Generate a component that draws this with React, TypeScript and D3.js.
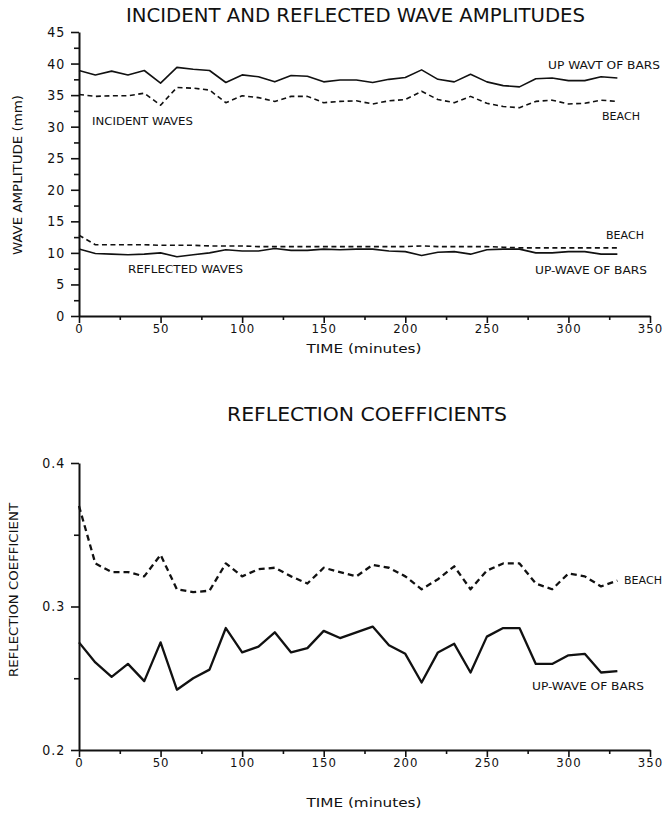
import React, { useRef, useEffect } from 'react';
import * as d3 from 'd3';

// sampling times (minutes)
const times = [0, 10, 20, 30, 40, 50, 60, 70, 80, 90, 100, 110, 120, 130, 140, 150, 160,
  170, 180, 190, 200, 210, 220, 230, 240, 250, 260, 270, 280, 290, 300, 310, 320, 330];

// wave amplitudes (mm)
const incidentBars = [38.9, 38.2, 38.8, 38.2, 38.9, 36.9, 39.4, 39.1, 38.9, 37.0, 38.2, 37.9,
  37.1, 38.1, 38.0, 37.1, 37.4, 37.4, 37.0, 37.5, 37.8, 39.0, 37.5, 37.1, 38.3, 37.1,
  36.5, 36.3, 37.6, 37.7, 37.3, 37.3, 37.9, 37.7];
const incidentBeach = [35.1, 34.8, 34.9, 34.9, 35.3, 33.4, 36.2, 36.1, 35.8, 33.8, 34.9, 34.6,
  34.0, 34.8, 34.8, 33.8, 34.0, 34.1, 33.6, 34.1, 34.3, 35.6, 34.3, 33.8, 34.8, 33.7,
  33.2, 33.0, 34.0, 34.2, 33.6, 33.7, 34.2, 34.0];
const reflectedBeach = [12.8, 11.3, 11.3, 11.3, 11.3, 11.2, 11.2, 11.2, 11.1, 11.1, 11.1, 11.0,
  11.0, 11.0, 11.0, 11.0, 11.0, 11.0, 11.0, 11.0, 11.0, 11.1, 11.0, 11.0, 11.0, 11.0,
  10.9, 10.8, 10.8, 10.8, 10.8, 10.8, 10.8, 10.8];
const reflectedBars = [10.6, 9.9, 9.8, 9.7, 9.8, 10.0, 9.4, 9.7, 10.0, 10.5, 10.3, 10.3,
  10.7, 10.4, 10.4, 10.6, 10.5, 10.6, 10.6, 10.3, 10.2, 9.6, 10.1, 10.2, 9.8, 10.5,
  10.6, 10.6, 10.0, 10.0, 10.2, 10.2, 9.8, 9.8];

// reflection coefficients
const coefBeach = [0.370, 0.330, 0.324, 0.324, 0.321, 0.336, 0.312, 0.310, 0.311, 0.330, 0.321,
  0.326, 0.327, 0.321, 0.316, 0.327, 0.324, 0.321, 0.329, 0.327, 0.321, 0.312, 0.319,
  0.328, 0.312, 0.325, 0.330, 0.330, 0.316, 0.312, 0.323, 0.321, 0.314, 0.318];
const coefBars = [0.275, 0.261, 0.251, 0.260, 0.248, 0.275, 0.242, 0.250, 0.256, 0.285, 0.268,
  0.272, 0.282, 0.268, 0.271, 0.283, 0.278, 0.282, 0.286, 0.273, 0.267, 0.247, 0.268,
  0.274, 0.254, 0.279, 0.285, 0.285, 0.260, 0.260, 0.266, 0.267, 0.254, 0.255];

const timeTicks = [0, 50, 100, 150, 200, 250, 300, 350];
const timeMinor = [25, 75, 125, 175, 225, 275, 325];
const ampTicks = [0, 5, 10, 15, 20, 25, 30, 35, 40, 45];
const ampMinor = [2.5, 7.5, 12.5, 17.5, 22.5, 27.5, 32.5, 37.5, 42.5];
const coefTicks = [0.2, 0.3, 0.4];
const coefMinor = [0.25, 0.35];

const W = 669;
const H = 815;
const FONT = '"Liberation Sans Narrow", "DejaVu Sans Condensed", "Liberation Sans", sans-serif';

const App: React.FC = () => {
  const svgRef = useRef<SVGSVGElement>(null);

  useEffect(() => {
    if (!svgRef.current) return;
    const svg = d3.select(svgRef.current);
    svg.selectAll('*').remove();

    const drawPanel = (x: d3.ScaleLinear<number, number>, y: d3.ScaleLinear<number, number>,
      yTicks: number[], yMinor: number[], yFormat: (d: number) => string) => {
      const g = svg.append('g');
      const y0 = y.range()[0];
      const x0 = x.range()[0];

      // x axis, ticks hanging below
      const xa = g.append('g').attr('transform', `translate(0,${y0})`);
      xa.call(d3.axisBottom(x).tickValues(timeTicks).tickSize(7).tickPadding(1).tickSizeOuter(0).tickFormat(d3.format('d')) as any);
      xa.append('g').call(d3.axisBottom(x).tickValues(timeMinor).tickSize(4).tickFormat(() => '') as any)
        .select('.domain').remove();
      xa.selectAll('path, line').attr('stroke', '#111').attr('stroke-width', 1.6);
      xa.selectAll('text').attr('font-family', FONT).attr('font-size', 13)
        .attr('letter-spacing', 1).attr('fill', '#111');

      // y axis
      const ya = g.append('g').attr('transform', `translate(${x0},0)`);
      ya.call(d3.axisLeft(y).tickValues(yTicks).tickSize(8).tickSizeOuter(0).tickFormat(yFormat as any) as any);
      ya.append('g').call(d3.axisLeft(y).tickValues(yMinor).tickSize(5).tickFormat(() => '') as any)
        .select('.domain').remove();
      ya.selectAll('path, line').attr('stroke', '#111').attr('stroke-width', 1.6);
      ya.selectAll('text').attr('font-family', FONT).attr('font-size', 14)
        .attr('letter-spacing', 1).attr('fill', '#111').attr('dx', '-0.2em');
      ya.selectAll('.domain').attr('stroke-width', 2);
      xa.selectAll('.domain').attr('stroke-width', 2);
      return g;
    };

    const addSeries = (g: any, x: any, y: any, vals: number[], dash: string | null, w: number) => {
      const line = d3.line<number>().x((_, i) => x(times[i])).y(d => y(d));
      g.append('path')
        .datum(vals)
        .attr('d', line)
        .attr('fill', 'none')
        .attr('stroke', '#111')
        .attr('stroke-width', w)
        .attr('stroke-linejoin', 'round')
        .attr('stroke-dasharray', dash);
    };

    // text with a fixed rendered length (the original lettering is widely spaced)
    const label = (txt: string, px: number, py: number, size: number, len: number,
      anchor = 'start', rotate = false) => {
      const t = svg.append('text')
        .attr('font-family', FONT)
        .attr('font-size', size)
        .attr('fill', '#111')
        .attr('text-anchor', anchor)
        .attr('textLength', len)
        .attr('lengthAdjust', 'spacingAndGlyphs')
        .text(txt);
      if (rotate) t.attr('transform', `translate(${px},${py}) rotate(-90)`);
      else t.attr('x', px).attr('y', py);
    };

    // top panel: wave amplitudes
    const xTop = d3.scaleLinear().domain([0, 350]).range([79, 650]);
    const yTop = d3.scaleLinear().domain([0, 45]).range([316, 32]);
    const gTop = drawPanel(xTop, yTop, ampTicks, ampMinor, d3.format('d'));
    addSeries(gTop, xTop, yTop, incidentBars, null, 1.6);
    addSeries(gTop, xTop, yTop, incidentBeach, '5,3.5', 1.6);
    addSeries(gTop, xTop, yTop, reflectedBeach, '5,3.5', 1.6);
    addSeries(gTop, xTop, yTop, reflectedBars, null, 1.6);

    label('INCIDENT AND REFLECTED WAVE AMPLITUDES', 126, 22, 19, 459);
    label('UP  WAVT  OF  BARS', 548, 69, 10.5, 112);
    label('INCIDENT  WAVES', 92, 125, 10.5, 101);
    label('BEACH', 602, 120, 10.5, 38);
    label('BEACH', 606, 239, 10.5, 38);
    label('REFLECTED  WAVES', 128, 273, 10.5, 115);
    label('UP-WAVE  OF  BARS', 535, 274, 10.5, 112);
    label('WAVE AMPLITUDE (mm)', 22, 175, 13, 160, 'middle', true);
    label('TIME (minutes)', 364, 353, 13, 115, 'middle');

    // bottom panel: reflection coefficients
    const xBot = d3.scaleLinear().domain([0, 350]).range([79, 650]);
    const yBot = d3.scaleLinear().domain([0.2, 0.4]).range([750, 463]);
    const gBot = drawPanel(xBot, yBot, coefTicks, coefMinor, d3.format('.1f'));
    addSeries(gBot, xBot, yBot, coefBeach, '6,4', 2.3);
    addSeries(gBot, xBot, yBot, coefBars, null, 2.3);

    label('REFLECTION  COEFFICIENTS', 227, 421, 19, 280);
    label('BEACH', 624, 584, 10.5, 38);
    label('UP-WAVE  OF  BARS', 532, 690, 10.5, 112);
    label('REFLECTION  COEFFICIENT', 18, 590, 13, 174, 'middle', true);
    label('TIME (minutes)', 364, 807, 13, 115, 'middle');
  }, []);

  return (
    <div style={{ position: 'absolute', left: 0, top: 0, background: '#fff' }}>
      <svg ref={svgRef} width={W} height={H} style={{ display: 'block' }} />
    </div>
  );
};

export default App;
